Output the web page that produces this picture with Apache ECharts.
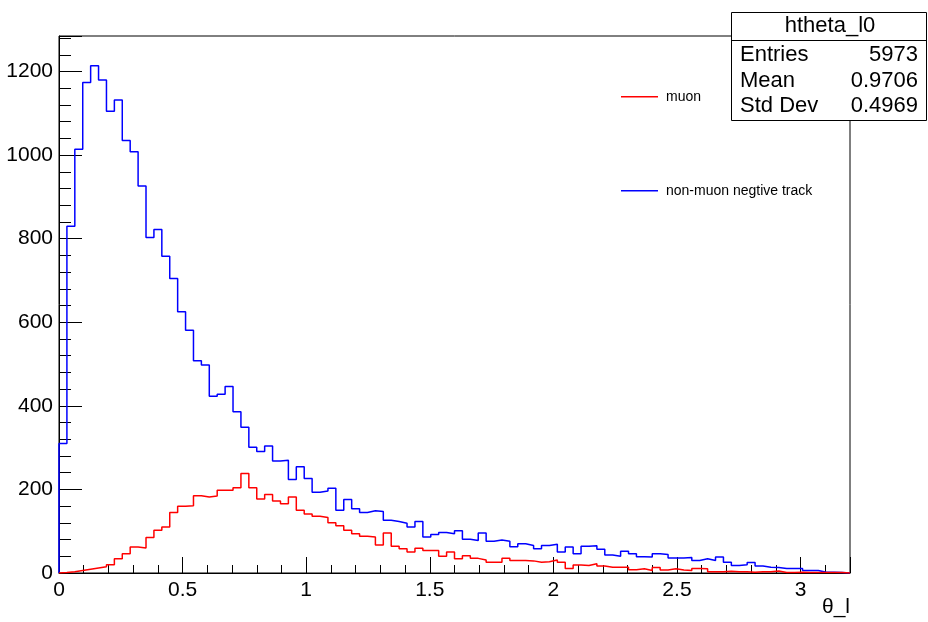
<!DOCTYPE html>
<html>
<head>
<meta charset="utf-8">
<script src="https://cdn.jsdelivr.net/npm/echarts@6/dist/echarts.min.js"></script>
<style>
  html, body { margin: 0; padding: 0; background: #ffffff; }
  #chart { width: 928px; height: 622px; }
</style>
</head>
<body>
<div id="chart"></div>
<script>
// Histogram binning of theta_l: 100 bins from 0 to 3.2
const binLow = 0;
const binWidth = 0.032;
const nBins = 100;

// Counts per bin, muon candidates
const muonCounts = [
  1, 3, 6, 9, 12, 15, 20, 34, 46, 62,
  60, 85, 102, 110, 145, 160, 161, 185, 182, 184,
  198, 198, 204, 238, 204, 177, 188, 172, 166, 182,
  150, 141, 136, 133, 120, 113, 102, 94, 88, 86,
  67, 96, 64, 58, 50, 59, 54, 54, 40, 50,
  34, 41, 35, 31, 26, 26, 35, 30, 30, 29,
  26, 27, 31, 26, 11, 19, 18, 22, 17, 14,
  14, 14, 8, 10, 6, 13, 7, 10, 7, 6,
  11, 10, 3, 3, 4, 3, 3, 2, 3, 3,
  5, 1, 1, 2, 1, 1, 1, 1, 1, 0
];

// Counts per bin, non-muon negative tracks
const nonMuonCounts = [
  310, 830, 1014, 1174, 1214, 1180, 1105, 1132, 1035, 1008,
  926, 803, 822, 758, 705, 625, 581, 508, 498, 423,
  428, 446, 386, 349, 301, 291, 304, 268, 270, 224,
  254, 226, 193, 196, 203, 150, 176, 154, 145, 149,
  147, 126, 123, 119, 110, 123, 86, 92, 97, 94,
  101, 81, 78, 96, 76, 79, 76, 63, 70, 66,
  58, 66, 69, 50, 62, 46, 64, 65, 57, 43,
  40, 52, 46, 39, 38, 46, 44, 36, 36, 37,
  30, 34, 30, 38, 26, 18, 20, 25, 17, 14,
  13, 11, 11, 11, 6, 6, 2, 2, 1, 0
];

const seriesNames = ['muon', 'non-muon negtive track'];
const seriesColors = ['#ff0000', '#0000ff'];

// Statistics box contents
const statsTitle = 'htheta_l0';
const statsLabels = ['Entries', 'Mean', 'Std Dev'];
const statsValues = ['5973', '0.9706', '0.4969'];

const xTitle = 'θ_l';
const xMax = binLow + nBins * binWidth;
const yMax = 1285;

const FONT = '"Liberation Sans", Arial, Helvetica, sans-serif';

// Step outline: rises at the low edge, one point per bin low edge, drops at the high edge
function histOutline(counts) {
  const pts = [[binLow, 0]];
  counts.forEach((c, i) => pts.push([binLow + i * binWidth, c]));
  pts.push([xMax, 0]);
  return pts;
}

const chart = echarts.init(document.getElementById('chart'), null, { renderer: 'canvas' });

const frame = { left: 59, right: 78, top: 36, bottom: 49 };
// Second grid carries the minor y ticks, ending at 1279 so no tick lands right under the frame
const pxPerCount = (622 - frame.top - frame.bottom) / yMax;
const minorTop = 622 - frame.bottom - 1279 * pxPerCount;

const black = '#000000';

const option = {
  animation: false,
  backgroundColor: '#ffffff',
  grid: [
    { left: frame.left, right: frame.right, top: frame.top, bottom: frame.bottom,
      show: true, borderColor: black, borderWidth: 1, backgroundColor: 'transparent',
      containLabel: false, outerBoundsMode: 'none' },
    { left: frame.left, right: frame.right, top: minorTop, bottom: frame.bottom,
      show: false, containLabel: false, outerBoundsMode: 'none' }
  ],
  xAxis: [
    {
      gridIndex: 0, type: 'value', min: binLow, max: xMax, interval: 0.5, position: 'bottom',
      axisLine: { show: true, onZero: false, lineStyle: { color: black, width: 1 } },
      axisTick: { show: true, inside: true, length: 16, lineStyle: { color: black, width: 1 } },
      axisLabel: {
        show: true, margin: 7, color: black, fontSize: 21, fontFamily: FONT,
        formatter: v => (v <= 3.0001 && Math.abs(v * 2 - Math.round(v * 2)) < 1e-6) ? String(Math.round(v * 10) / 10) : ''
      },
      splitLine: { show: false }
    },
    {
      gridIndex: 0, type: 'value', min: binLow, max: xMax, interval: 0.1, position: 'bottom',
      axisLine: { show: false },
      axisTick: { show: true, inside: true, length: 8, lineStyle: { color: black, width: 1 } },
      axisLabel: { show: false },
      splitLine: { show: false }
    },
    {
      gridIndex: 1, type: 'value', min: binLow, max: xMax, show: false
    }
  ],
  yAxis: [
    {
      gridIndex: 0, type: 'value', min: 0, max: yMax, interval: 200, position: 'left',
      axisLine: { show: true, onZero: false, lineStyle: { color: black, width: 1 } },
      axisTick: { show: true, inside: true, length: 23, lineStyle: { color: black, width: 1 } },
      axisLabel: {
        show: true, margin: 6, color: black, fontSize: 21, fontFamily: FONT,
        formatter: v => (v % 200 === 0) ? String(v) : ''
      },
      splitLine: { show: false }
    },
    {
      gridIndex: 1, type: 'value', min: 0, max: 1279, interval: 40, position: 'left',
      axisLine: { show: false },
      axisTick: { show: true, inside: true, length: 12, lineStyle: { color: black, width: 1 } },
      axisLabel: { show: false },
      splitLine: { show: false }
    }
  ],
  legend: {
    orient: 'vertical',
    left: 616,
    top: 84.7,
    itemGap: 80,
    itemWidth: 37,
    itemHeight: 1.5,
    icon: 'rect',
    selectedMode: false,
    data: seriesNames,
    textStyle: { color: black, fontSize: 14, fontFamily: FONT, padding: [0, 0, 0, 3] }
  },
  series: [
    {
      name: seriesNames[0], type: 'line', step: 'end', xAxisIndex: 0, yAxisIndex: 0,
      data: histOutline(muonCounts), showSymbol: false, symbol: 'none',
      color: seriesColors[0],
      itemStyle: { color: seriesColors[0] },
      lineStyle: { color: seriesColors[0], width: 1.5 },
      emphasis: { disabled: true }, silent: true, z: 3
    },
    {
      name: seriesNames[1], type: 'line', step: 'end', xAxisIndex: 0, yAxisIndex: 0,
      data: histOutline(nonMuonCounts), showSymbol: false, symbol: 'none',
      color: seriesColors[1],
      itemStyle: { color: seriesColors[1] },
      lineStyle: { color: seriesColors[1], width: 1.5 },
      emphasis: { disabled: true }, silent: true, z: 2
    }
  ],
  graphic: [
    // statistics box
    { type: 'rect', z: 100, shape: { x: 731.5, y: 12.5, width: 195, height: 108 },
      style: { fill: '#ffffff', stroke: black, lineWidth: 1 } },
    { type: 'line', z: 101, shape: { x1: 731.5, y1: 40.5, x2: 926.5, y2: 40.5 },
      style: { stroke: black, lineWidth: 1 } },
    { type: 'text', z: 102, x: 830, y: 26,
      style: { text: statsTitle, fill: black, font: '22px ' + FONT, textAlign: 'center', textVerticalAlign: 'middle' } },
    ...statsLabels.map((t, i) => ({
      type: 'text', z: 102, x: 740, y: 55 + i * 25.5,
      style: { text: t, fill: black, font: '22px ' + FONT, textAlign: 'left', textVerticalAlign: 'middle' }
    })),
    ...statsValues.map((t, i) => ({
      type: 'text', z: 102, x: 918, y: 55 + i * 25.5,
      style: { text: t, fill: black, font: '22px ' + FONT, textAlign: 'right', textVerticalAlign: 'middle' }
    })),
    // x axis title
    { type: 'text', z: 50, x: 850, y: 607,
      style: { text: xTitle, fill: black, font: '21px ' + FONT, textAlign: 'right', textVerticalAlign: 'middle' } }
  ]
};

chart.setOption(option);
</script>
</body>
</html>
